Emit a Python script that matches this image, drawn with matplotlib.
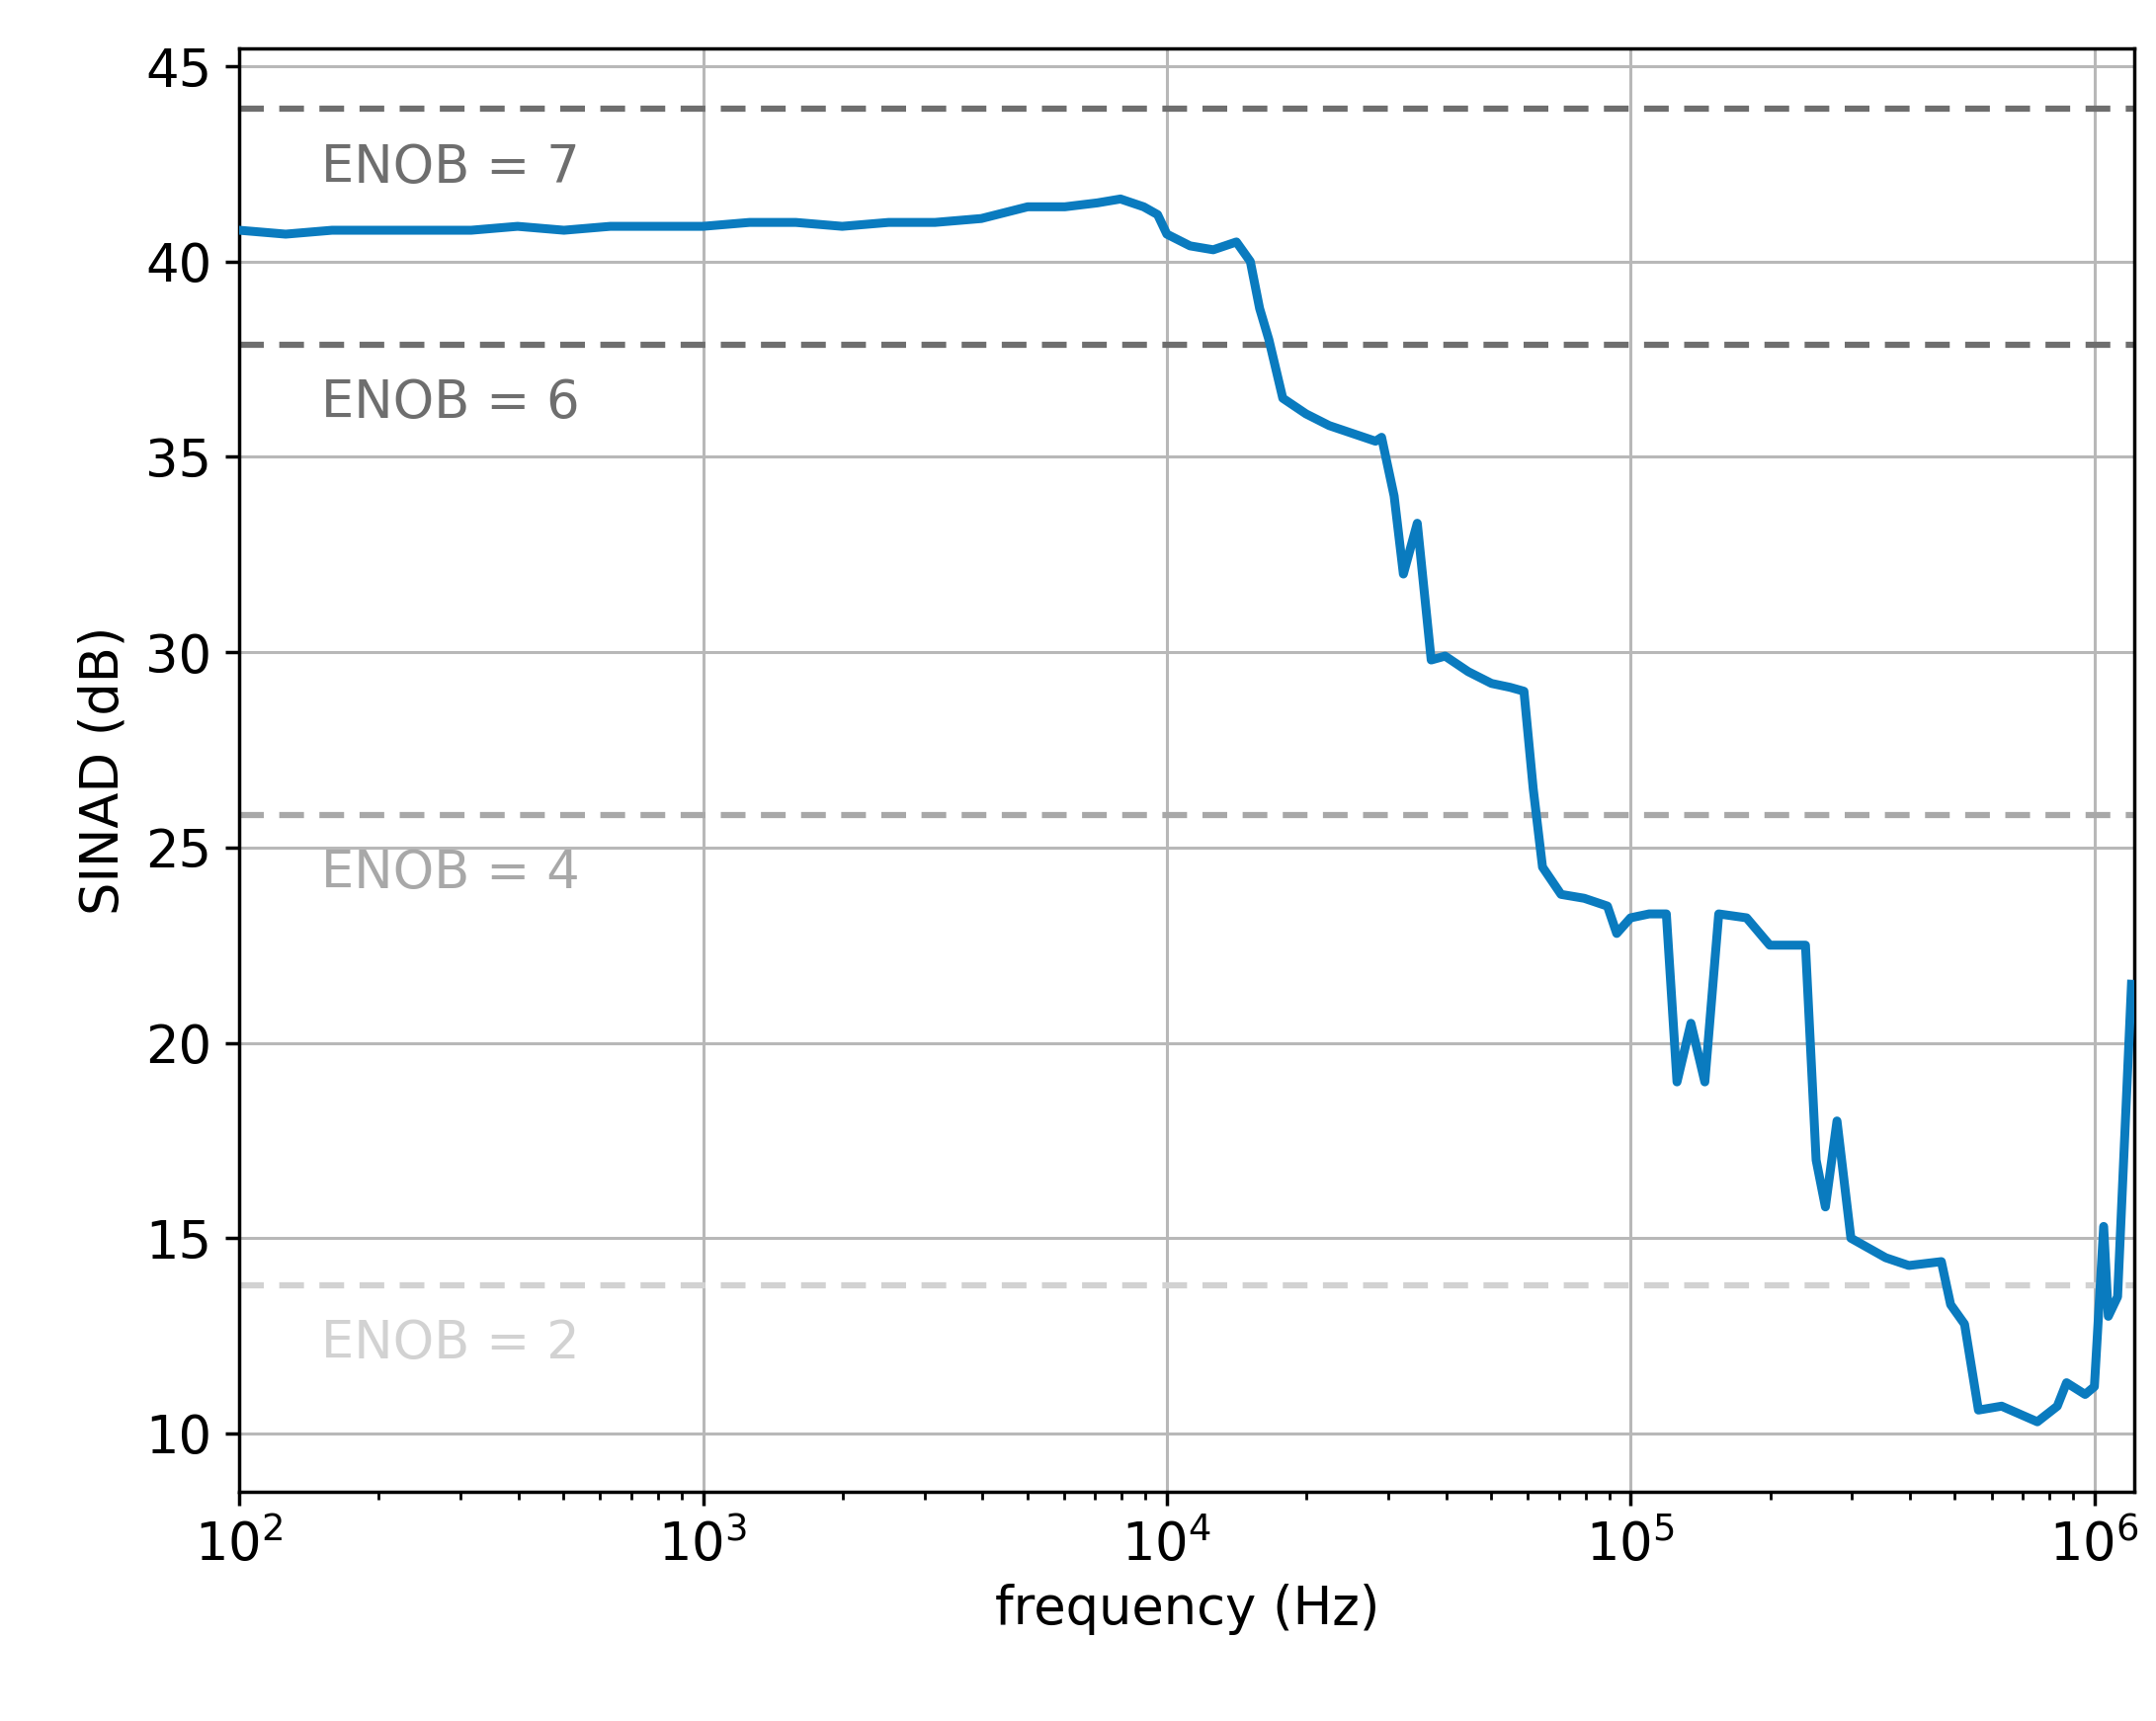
import numpy as np
import matplotlib
matplotlib.use("Agg")
import matplotlib.pyplot as plt

log_f = [2.0,2.1,2.2,2.3,2.4,2.5,2.6,2.7,2.8,2.9,3.0,3.1,3.2,3.3,3.4,3.5,3.6,3.7,3.78,3.85,3.9,3.95,3.98,4.0,4.05,4.1,4.15,4.18,4.2,4.22,4.25,4.3,4.35,4.4,4.45,4.463,4.49,4.51,4.54,4.57,4.6,4.65,4.7,4.74,4.77,4.79,4.81,4.85,4.9,4.95,4.97,5.0,5.04,5.077,5.10,5.13,5.16,5.19,5.25,5.3,5.377,5.40,5.42,5.445,5.475,5.55,5.6,5.67,5.69,5.72,5.75,5.8,5.877,5.92,5.94,5.98,6.0,6.02,6.03,6.05,6.08]
sinad = [40.8,40.7,40.8,40.8,40.8,40.8,40.9,40.8,40.9,40.9,40.9,41.0,41.0,40.9,41.0,41.0,41.1,41.4,41.4,41.5,41.6,41.4,41.2,40.7,40.4,40.3,40.5,40.0,38.8,38.0,36.5,36.1,35.8,35.6,35.4,35.5,34.0,32.0,33.3,29.8,29.9,29.5,29.2,29.1,29.0,26.5,24.5,23.8,23.7,23.5,22.8,23.2,23.3,23.3,19.0,20.5,19.0,23.3,23.2,22.5,22.5,17.0,15.8,18.0,15.0,14.5,14.3,14.4,13.3,12.8,10.6,10.7,10.3,10.7,11.3,11.0,11.2,15.3,13.0,13.5,21.5]
enob_bits = [7, 6, 4, 2]
enob_colors = ["#6e6e6e", "#6e6e6e", "#a8a8a8", "#d2d2d2"]

fig = plt.figure(figsize=(21.82, 17.42), dpi=100)
ax = fig.add_axes([0.111, 0.133, 0.879, 0.839])
freq = 10 ** np.array(log_f)
for n, c in zip(enob_bits, enob_colors):
    lvl = 6.02 * n + 1.76
    ax.axhline(lvl, color=c, ls=(0, (4, 2.5)), lw=4.5, zorder=2)
    ax.text(150, lvl - 1.5, f"ENOB = {n}", color=c, fontsize=38, va="center", ha="left")
ax.plot(freq, sinad, color="#0a7bbf", lw=6.5, zorder=3)
ax.set_xscale("log")
ax.set_xlim(100, 1.22e6)
ax.set_ylim(8.5, 45.46)
ax.set_yticks([10, 15, 20, 25, 30, 35, 40, 45])
ax.grid(True, which="major", color="#b8b8b8", lw=2.2)
ax.tick_params(labelsize=38, width=2.5, length=10, pad=10)
ax.tick_params(which="minor", width=2, length=6)
for s in ax.spines.values():
    s.set_linewidth(2.5)
ax.set_xlabel("frequency (Hz)", fontsize=38, labelpad=8)
ax.set_ylabel("SINAD (dB)", fontsize=38, labelpad=12)
fig.savefig("out.png", dpi=100)
